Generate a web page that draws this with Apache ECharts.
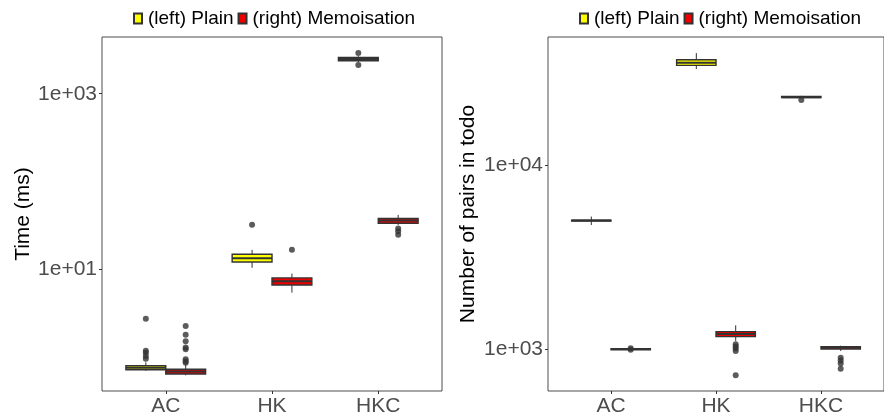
<!DOCTYPE html>
<html><head><meta charset="utf-8">
<script src="https://cdn.jsdelivr.net/npm/echarts@6/dist/echarts.min.js"></script>
<style>html,body{margin:0;padding:0;background:#fff}#c{width:884px;height:418px}</style>
</head><body><div id="c"></div>
<script>
// ---- data ----
const categories = ['AC', 'HK', 'HKC'];
const seriesNames = ['(left) Plain', '(right) Memoisation'];
// box stats per category: [lowWhisker, q1, median, q3, highWhisker]
const timePlain = [[0.689, 0.706, 0.743, 0.785, 0.859], [10.3, 12.0, 13.2, 14.7, 16.5], [2302, 2382, 2493, 2600, 2683]];
const timeMemo = [[0.610, 0.631, 0.674, 0.714, 0.815], [5.36, 6.56, 7.23, 7.89, 8.84], [31.8, 33.2, 35.8, 37.6, 41.4]];
const timePlainOut = [[2.70, 1.16, 1.10, 1.01, 0.94], [31.9], [2917, 2128]];
const timeMemoOut = [[2.23, 1.77, 1.49, 1.27, 1.21, 0.93, 0.88, 0.85], [16.5], [28.9, 27.0, 24.6]];
const todoPlain = [[4740, 4980, 5010, 5040, 5272], [33570, 35160, 36310, 37740, 41020], [23300, 23450, 23600, 23800, 24000]];
const todoMemo = [[995, 997, 1000, 1003, 1005], [1106, 1167, 1207, 1243, 1346], [975, 1000, 1019, 1028, 1042]];
const todoPlainOut = [[], [], [22750]];
const todoMemoOut = [[990, 1010], [1061, 1032, 1006, 975, 719], [897, 864, 832, 781]];
const timeTicks = [10, 1000];
const todoTicks = [1000, 10000];
const yTitles = ['Time (ms)', 'Number of pairs in todo'];

// ---- style ----
const FONT = 'Liberation Sans, Arial, sans-serif';
const colors = ['#FFFF00', '#EE0000'];
const dark = '#333333';
const halfW = 0.1875;
const dodge = [-0.1875, 0.1875];

function boxData(stats) { return stats.map((s, i) => [i + 1].concat(s)); }
function outData(outs, d) {
  const r = [];
  outs.forEach((arr, i) => arr.forEach(v => r.push([i + 1 + d, v])));
  return r;
}
function renderBox(off, color) {
  return function (params, api) {
    const x = api.value(0) + off;
    const lo = api.value(1), q1 = api.value(2), med = api.value(3), q3 = api.value(4), hi = api.value(5);
    const pL = api.coord([x - halfW, q1]);
    const pR = api.coord([x + halfW, q3]);
    const c = api.coord([x, med]);
    const pLo = api.coord([x, lo]);
    const pHi = api.coord([x, hi]);
    return {
      type: 'group', children: [
        { type: 'line', shape: { x1: c[0], y1: pHi[1], x2: c[0], y2: pR[1] }, style: { stroke: dark, lineWidth: 1 } },
        { type: 'line', shape: { x1: c[0], y1: pL[1], x2: c[0], y2: pLo[1] }, style: { stroke: dark, lineWidth: 1 } },
        { type: 'rect', shape: { x: pL[0], y: pR[1], width: pR[0] - pL[0], height: Math.max(pL[1] - pR[1], 1) }, style: { fill: color, stroke: dark, lineWidth: 1.4 } },
        { type: 'line', shape: { x1: pL[0], y1: c[1], x2: pR[0], y2: c[1] }, style: { stroke: dark, lineWidth: 2 } }
      ]
    };
  };
}
function expLabel(v) {
  const e = Math.round(Math.log10(v));
  return '1e' + (e < 0 ? '-' : '+') + String(Math.abs(e)).padStart(2, '0');
}

function xAxisDef(gi) {
  return {
    type: 'value', gridIndex: gi, min: 0.4, max: 3.6,
    splitLine: { show: false }, axisLine: { show: false },
    axisTick: { show: true, length: 3, lineStyle: { color: dark }, customValues: [1, 2, 3] },
    axisLabel: { customValues: [1, 2, 3], formatter: v => categories[Math.round(v) - 1] || '', fontSize: 21, color: '#4d4d4d', fontFamily: FONT, margin: 5 }
  };
}
function yAxisDef(gi, min, max, ticks, title, gap) {
  return {
    type: 'log', logBase: 10, gridIndex: gi, min: min, max: max,
    splitLine: { show: false }, axisLine: { show: false },
    axisTick: { show: true, length: 3, lineStyle: { color: dark }, customValues: ticks },
    axisLabel: { customValues: ticks, formatter: v => expLabel(v), fontSize: 21, color: '#4d4d4d', fontFamily: FONT, margin: 5 },
    name: title, nameLocation: 'middle', nameRotate: 90, nameGap: gap,
    nameTextStyle: { fontSize: 21, color: '#000', fontFamily: FONT }
  };
}

const series = [];
[[timePlain, timeMemo, timePlainOut, timeMemoOut], [todoPlain, todoMemo, todoPlainOut, todoMemoOut]].forEach((set, gi) => {
  [0, 1].forEach(k => {
    series.push({
      type: 'custom', name: seriesNames[k], xAxisIndex: gi, yAxisIndex: gi,
      renderItem: renderBox(dodge[k], colors[k]),
      itemStyle: { color: colors[k], borderColor: dark, borderWidth: 1 },
      encode: { x: 0, y: [1, 2, 3, 4, 5] },
      data: boxData(set[k]), z: 2
    });
  });
  [0, 1].forEach(k => {
    series.push({
      type: 'scatter', xAxisIndex: gi, yAxisIndex: gi, symbolSize: 6,
      itemStyle: { color: dark }, data: outData(set[2 + k], dodge[k]), z: 3, silent: true
    });
  });
});

const legendBase = {
  data: seriesNames, icon: 'rect', itemWidth: 8, itemHeight: 10, itemGap: 4,
  textStyle: { fontSize: 19, color: '#000', fontFamily: FONT, padding: [0, 0, 0, 1] }, top: 4, selectedMode: false
};

const chart = echarts.init(document.getElementById('c'), null, { renderer: 'canvas' });
chart.setOption({
  animation: false,
  backgroundColor: '#fff',
  grid: [
    { left: 102, top: 37, width: 340, height: 354, show: true, borderColor: '#4d4d4d', borderWidth: 1 },
    { left: 548, top: 37, width: 341, height: 354, show: true, borderColor: '#4d4d4d', borderWidth: 1 }
  ],
  legend: [Object.assign({ left: 128 }, legendBase), Object.assign({ left: 574 }, legendBase)],
  xAxis: [xAxisDef(0), xAxisDef(1)],
  yAxis: [yAxisDef(0, 0.4036, 4446, timeTicks, yTitles[0], 68), yAxisDef(1, 590, 50200, todoTicks, yTitles[1], 69)],
  series: series
});
</script></body></html>
